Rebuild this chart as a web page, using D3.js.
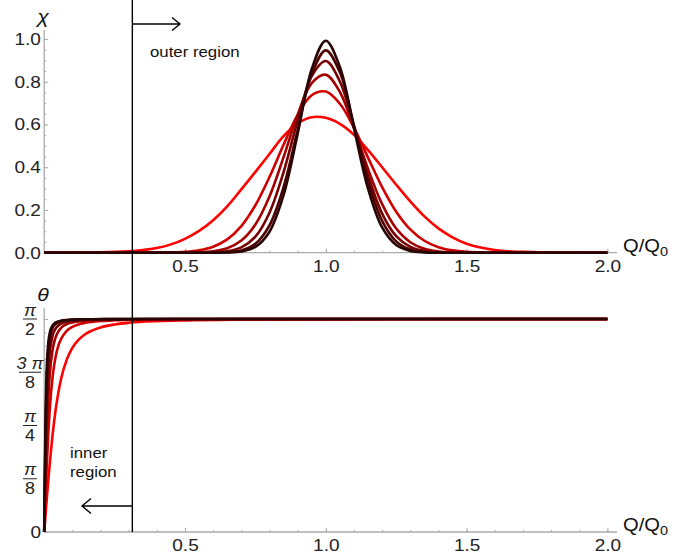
<!DOCTYPE html>
<html>
<head>
<meta charset="utf-8">
<script src="https://cdn.jsdelivr.net/npm/d3@7"></script>
<style>
  body { margin: 0; background: #fff; }
  text { font-family: "Liberation Sans", Arial, sans-serif; }
</style>
</head>
<body>
<div id="chart"></div>
<script>
// sample points along Q/Q0
var qTop = [0, 0.1, 0.2, 0.3, 0.35, 0.4, 0.45, 0.5, 0.55, 0.6, 0.65, 0.7, 0.75, 0.8, 0.85, 0.9, 0.95, 1.0,
            1.05, 1.1, 1.15, 1.2, 1.25, 1.3, 1.35, 1.4, 1.45, 1.5, 1.55, 1.6, 1.65, 1.7, 1.8, 1.9, 2.0];

// chi(Q), from red (widest) to black (tallest)
var chi1 = [0, 0.0003, 0.0014, 0.0062, 0.012, 0.022, 0.039, 0.065, 0.102, 0.152, 0.217, 0.296, 0.378, 0.462, 0.545, 0.605, 0.634, 0.631,
            0.603, 0.552, 0.480, 0.400, 0.318, 0.240, 0.170, 0.114, 0.072, 0.042, 0.024, 0.013, 0.007, 0.004, 0.001, 0.0002, 0];
var chi2 = [0, 0, 0, 0, 0.0001, 0.0004, 0.0013, 0.0041, 0.0113, 0.028, 0.0625, 0.1245, 0.222, 0.354, 0.505, 0.645, 0.737, 0.754,
            0.697, 0.585, 0.445, 0.307, 0.192, 0.109, 0.056, 0.026, 0.011, 0.0043, 0.0014, 0.0004, 0.0001, 0, 0, 0, 0];
var chi3 = [0, 0, 0, 0, 0, 0, 0.0001, 0.0004, 0.0017, 0.0064, 0.021, 0.057, 0.132, 0.263, 0.447, 0.645, 0.794, 0.833,
            0.752, 0.584, 0.392, 0.227, 0.113, 0.049, 0.018, 0.0058, 0.0016, 0.0004, 0.0001, 0, 0, 0, 0, 0, 0];
var chi4 = [0, 0, 0, 0, 0, 0, 0, 0, 0.0003, 0.0014, 0.0066, 0.025, 0.075, 0.187, 0.377, 0.618, 0.826, 0.897,
            0.801, 0.592, 0.362, 0.183, 0.077, 0.027, 0.0076, 0.0018, 0.0003, 0, 0, 0, 0, 0, 0, 0, 0];
var chi5 = [0, 0, 0, 0, 0, 0, 0, 0, 0, 0.0003, 0.0021, 0.0105, 0.042, 0.128, 0.307, 0.574, 0.836, 0.947,
            0.844, 0.596, 0.335, 0.149, 0.053, 0.015, 0.0033, 0.0006, 0, 0, 0, 0, 0, 0, 0, 0, 0];
var chi6 = [0, 0, 0, 0, 0, 0, 0, 0, 0, 0.0001, 0.0008, 0.0055, 0.027, 0.098, 0.270, 0.556, 0.859, 0.992,
            0.869, 0.583, 0.300, 0.118, 0.036, 0.0083, 0.0015, 0.0002, 0, 0, 0, 0, 0, 0, 0, 0, 0];

var qBot = [0, 0.0025, 0.005, 0.0075, 0.01, 0.015, 0.02, 0.03, 0.04, 0.05, 0.06, 0.08, 0.1, 0.125, 0.15,
            0.2, 0.25, 0.3, 0.4, 0.5, 0.7, 1.0, 1.5, 2.0];

// theta(Q) in units of pi/2, lower panel
var th1 = [0, .0431, .0859, .1282, .1699, .2504, .3259, .4595, .5677, .6530, .7191, .8094, .8649, .9068, .9325, .9605, .9744, .9822, .9899, .9934, .9966, .9983, .9993, .9996];
var th2 = [0, .0889, .1758, .2590, .3363, .4722, .5812, .7311, .8192, .8742, .9062, .9439, .9630, .9761, .9834, .9906, .9940, .9958, .9976, .9985, .9992, .9996, .9998, 1];
var th3 = [0, .1375, .2673, .3846, .4856, .6402, .7433, .8575, .9119, .9407, .9578, .9756, .9842, .9896, .9928, .9959, .9974, .9982, .9990, .9994, .9997, .9999, 1, 1];
var th4 = [0, .1961, .3714, .5145, .6247, .7682, .8480, .9231, .9535, .9690, .9778, .9874, .9918, .9948, .9964, .9980, .9987, .9991, .9995, .9997, .9998, 1, 1, 1];
var th5 = [0, .2588, .4741, .6298, .7399, .8575, .9119, .9578, .9756, .9842, .9889, .9937, .9960, .9974, .9982, .9990, .9994, .9996, .9997, .9998, 1, 1, 1, 1];
var th6 = [0, .3162, .5547, .7071, .8000, .8944, .9363, .9701, .9829, .9889, .9923, .9956, .9972, .9982, .9988, .9993, .9995, .9997, .9998, .9999, 1, 1, 1, 1];

var xTicks = [0.5, 1.0, 1.5, 2.0];
var chiTicks = [0, 0.2, 0.4, 0.6, 0.8, 1.0];
var thetaTicks = [0, 0.25, 0.5, 0.75, 1];
var thetaNum = ["0", "π", "π", "3 π", "π"];
var thetaDen = ["", "8", "4", "8", "2"];
var regionQ = 0.313;

var colors = ["#ff0000", "#d00000", "#a40000", "#780000", "#4e0000", "#280505"];

var W = 695, H = 558, SX = 1.12;

var svg = d3.select("#chart").append("svg")
    .attr("width", W).attr("height", H)
    .style("background", "#fff");

var x = d3.scaleLinear().domain([0, 2]).range([44.2, 607.4]);
var yTop = d3.scaleLinear().domain([0, 1]).range([252.7, 39]);
var yBot = d3.scaleLinear().domain([0, 1]).range([532, 319]);

function label(g, px, py, str, size, anchor, italic) {
    return g.append("text")
        .attr("transform", "translate(" + px + "," + py + ") scale(" + SX + ",1)")
        .attr("text-anchor", anchor || "start")
        .style("font-size", size + "px")
        .style("font-style", italic ? "italic" : "normal")
        .attr("fill", "#111")
        .text(str);
}

function xAxis(yPos) {
    var g = svg.append("g").attr("transform", "translate(0," + yPos + ")");
    g.append("line").attr("x1", 44).attr("x2", 617).attr("y1", 0).attr("y2", 0)
        .attr("stroke", "#aaa").attr("stroke-width", 1.3);
    var minor = svg.append("g").attr("transform", "translate(0," + yPos + ")")
        .call(d3.axisBottom(x).tickValues(d3.range(1, 21).map(function(i){ return i / 10; }))
            .tickSizeInner(-2).tickSizeOuter(0).tickFormat(""));
    minor.select(".domain").remove();
    minor.selectAll(".tick line").attr("stroke", "#aaa");
    g.call(d3.axisBottom(x).tickValues(xTicks).tickSizeInner(-4).tickSizeOuter(0)
            .tickPadding(7).tickFormat(d3.format(".1f")));
    g.select(".domain").remove();
    g.selectAll(".tick line").attr("stroke", "#aaa");
    g.selectAll(".tick text")
        .attr("transform", "scale(" + SX + ",1)")
        .style("font-size", "17px")
        .style("font-family", "'Liberation Sans', Arial, sans-serif")
        .attr("fill", "#222");
    // Q/Q0 label
    var t = svg.append("text")
        .attr("transform", "translate(623," + (yPos - 1) + ") scale(" + SX + ",1)")
        .attr("text-anchor", "start")
        .style("font-size", "18px").attr("fill", "#111");
    t.append("tspan").text("Q/Q");
    t.append("tspan").attr("dy", 4).style("font-size", "13px").text("0");
}

// ---- upper panel ----
xAxis(yTop(0));

var gy = svg.append("g").attr("transform", "translate(" + x(0) + ",0)");
gy.append("line").attr("x1", 0).attr("x2", 0).attr("y1", 30).attr("y2", yTop(0))
    .attr("stroke", "#aaa").attr("stroke-width", 1.3);
var gyMinor = svg.append("g").attr("transform", "translate(" + x(0) + ",0)")
    .call(d3.axisLeft(yTop).tickValues(d3.range(1, 21).map(function(i){ return i / 20; }))
        .tickSizeInner(-2).tickSizeOuter(0).tickFormat(""));
gyMinor.select(".domain").remove();
gyMinor.selectAll(".tick line").attr("stroke", "#aaa");
gy.call(d3.axisLeft(yTop).tickValues(chiTicks).tickSizeInner(-4).tickSizeOuter(0)
        .tickPadding(3).tickFormat(d3.format(".1f")));
gy.select(".domain").remove();
gy.selectAll(".tick line").attr("stroke", "#aaa");
gy.selectAll(".tick text")
    .attr("transform", "scale(" + SX + ",1)")
    .style("font-size", "17px")
    .style("font-family", "'Liberation Sans', Arial, sans-serif")
    .attr("fill", "#222");
label(svg, 43, 23, "χ", 19, "middle", true);

var chiSeries = [chi1, chi2, chi3, chi4, chi5, chi6];
var lineTop = d3.line()
    .x(function(d) { return x(d[0]); })
    .y(function(d) { return yTop(Math.max(0, d[1])); })
    .curve(d3.curveCatmullRom.alpha(0.5));

svg.append("g").selectAll("path")
    .data(chiSeries)
    .enter()
    .append("path")
    .attr("d", function(s) { return lineTop(qTop.map(function(q, i) { return [q, s[i]]; })); })
    .attr("fill", "none")
    .attr("stroke", function(s, i) { return colors[i]; })
    .attr("stroke-width", 2.6)
    .attr("stroke-linejoin", "round");

// ---- lower panel ----
xAxis(yBot(0));

var gb = svg.append("g").attr("transform", "translate(" + x(0) + ",0)");
gb.append("line").attr("x1", 0).attr("x2", 0).attr("y1", 308).attr("y2", yBot(0))
    .attr("stroke", "#aaa").attr("stroke-width", 1.3);
var gbMinor = svg.append("g").attr("transform", "translate(" + x(0) + ",0)")
    .call(d3.axisLeft(yBot).tickValues(d3.range(1, 17).map(function(i){ return i / 16; }))
        .tickSizeInner(-2).tickSizeOuter(0).tickFormat(""));
gbMinor.select(".domain").remove();
gbMinor.selectAll(".tick line").attr("stroke", "#aaa");
var gbMajor = svg.append("g").attr("transform", "translate(" + x(0) + ",0)")
    .call(d3.axisLeft(yBot).tickValues(thetaTicks).tickSizeInner(-4).tickSizeOuter(0).tickFormat(""));
gbMajor.select(".domain").remove();
gbMajor.selectAll(".tick line").attr("stroke", "#aaa");

// fraction tick labels
thetaTicks.forEach(function(v, i) {
    var ty = yBot(v);
    if (thetaDen[i] === "") {
        label(svg, 41, ty + 6, thetaNum[i], 17, "end", false).attr("fill", "#222");
        return;
    }
    var half = thetaNum[i].length > 1 ? 11 : 7;
    label(svg, 30, ty - 3.5, thetaNum[i], 16, "middle", true).attr("fill", "#222");
    svg.append("line").attr("x1", 30 - half).attr("x2", 30 + half)
        .attr("y1", ty).attr("y2", ty).attr("stroke", "#222").attr("stroke-width", 1);
    label(svg, 30, ty + 15.5, thetaDen[i], 16, "middle", false).attr("fill", "#222");
});
label(svg, 43, 301, "θ", 19, "middle", true);

var thSeries = [th1, th2, th3, th4, th5, th6];
var lineBot = d3.line()
    .x(function(d) { return x(d[0]); })
    .y(function(d) { return yBot(d[1]); })
    .curve(d3.curveMonotoneX);

svg.append("g").selectAll("path")
    .data(thSeries)
    .enter()
    .append("path")
    .attr("d", function(s) { return lineBot(qBot.map(function(q, i) { return [q, s[i]]; })); })
    .attr("fill", "none")
    .attr("stroke", function(s, i) { return colors[i]; })
    .attr("stroke-width", 2.6)
    .attr("stroke-linejoin", "round");

// ---- region marker and arrows ----
var xr = x(regionQ);
svg.append("line").attr("x1", xr).attr("x2", xr).attr("y1", 0).attr("y2", yBot(0))
    .attr("stroke", "#000").attr("stroke-width", 1.4);

function arrow(x1, x2, yy, back, spread) {
    var dir = x2 > x1 ? -1 : 1;
    svg.append("path")
        .attr("d", "M" + x1 + "," + yy + "H" + x2 +
                   "M" + (x2 + dir * back) + "," + (yy - spread) + "L" + x2 + "," + yy +
                   "L" + (x2 + dir * back) + "," + (yy + spread))
        .attr("fill", "none").attr("stroke", "#000").attr("stroke-width", 1.4);
}
arrow(xr, 180, 24, 8, 6.5);
arrow(xr, 82, 506, 9, 7.5);

label(svg, 150, 57, "outer region", 15, "start", false);
label(svg, 70, 458, "inner", 15, "start", false);
label(svg, 70, 477, "region", 15, "start", false);
</script>
</body>
</html>
